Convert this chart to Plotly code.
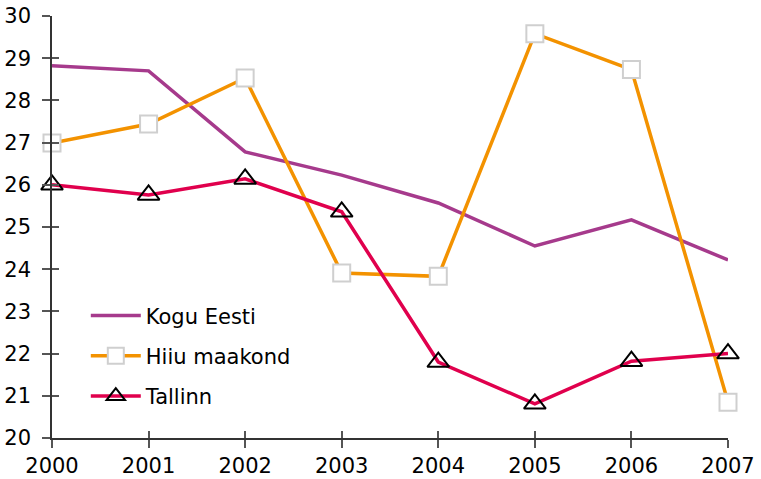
import plotly.graph_objects as go

years = [2000, 2001, 2002, 2003, 2004, 2005, 2006, 2007]
kogu_eesti = [28.82, 28.70, 26.78, 26.23, 25.57, 24.55, 25.17, 24.22]
hiiu = [26.99, 27.44, 28.53, 23.91, 23.83, 29.58, 28.73, 20.85]
tallinn = [26.00, 25.76, 26.14, 25.36, 21.80, 20.81, 21.82, 22.00]
y_ticks = list(range(20, 31))

font = dict(family="DejaVu Sans", size=21, color="black")

fig = go.Figure()
fig.add_trace(go.Scatter(x=years, y=kogu_eesti, name="Kogu Eesti", mode="lines",
                         line=dict(color="#a63a8c", width=3.5), legendgroup="a",
                         cliponaxis=False))
fig.add_trace(go.Scatter(x=years, y=hiiu, name="Hiiu maakond", mode="lines+markers",
                         line=dict(color="#f39200", width=3.5),
                         marker=dict(symbol="square", size=17, color="white",
                                     line=dict(color="#cfcfcf", width=2)), legendgroup="b",
                         cliponaxis=False))
fig.add_trace(go.Scatter(x=years, y=tallinn, name="Tallinn", mode="lines+markers",
                         line=dict(color="#e0004d", width=3.5),
                         marker=dict(symbol="triangle-up-open", size=19, color="black",
                                     line=dict(color="black", width=2)), legendgroup="c",
                         cliponaxis=False))
# invisible trace for overlay axis (inside ticks)
fig.add_trace(go.Scatter(x=years, y=tallinn, xaxis="x2", yaxis="y2", mode="none",
                         showlegend=False, hoverinfo="skip"))

axis_common = dict(showgrid=False, zeroline=False, showline=True, linecolor="#333",
                   linewidth=1.5, tickcolor="#555", tickwidth=1.5, ticklen=8,
                   tickfont=font, automargin=False)
fig.update_layout(
    width=761, height=479,
    margin=dict(l=52, r=33, t=16, b=41),
    plot_bgcolor="white", paper_bgcolor="white",
    font=font,
    xaxis=dict(range=[2000, 2007], tickvals=years, ticks="outside", **axis_common),
    yaxis=dict(range=[20, 30], tickvals=y_ticks, ticks="outside", ticklabelstandoff=7,
               **axis_common),
    xaxis2=dict(range=[2000, 2007], tickvals=years, ticks="inside", overlaying="x",
                showticklabels=False, showgrid=False, zeroline=False, showline=False,
                tickcolor="#555", tickwidth=1.5, ticklen=7, side="bottom", automargin=False),
    yaxis2=dict(range=[20, 30], tickvals=y_ticks, ticks="inside", overlaying="y",
                showticklabels=False, showgrid=False, zeroline=False, showline=False,
                tickcolor="#555", tickwidth=1.5, ticklen=7, side="left", automargin=False),
    legend=dict(x=0.05, y=0.338, xanchor="left", yanchor="top", bgcolor="rgba(0,0,0,0)",
                font=font, tracegroupgap=10, traceorder="grouped", itemwidth=50),
    showlegend=True,
)
fig.write_html("out.html", config={"displayModeBar": False},
               post_script="document.body.style.margin='0';document.body.style.overflow='hidden';")
